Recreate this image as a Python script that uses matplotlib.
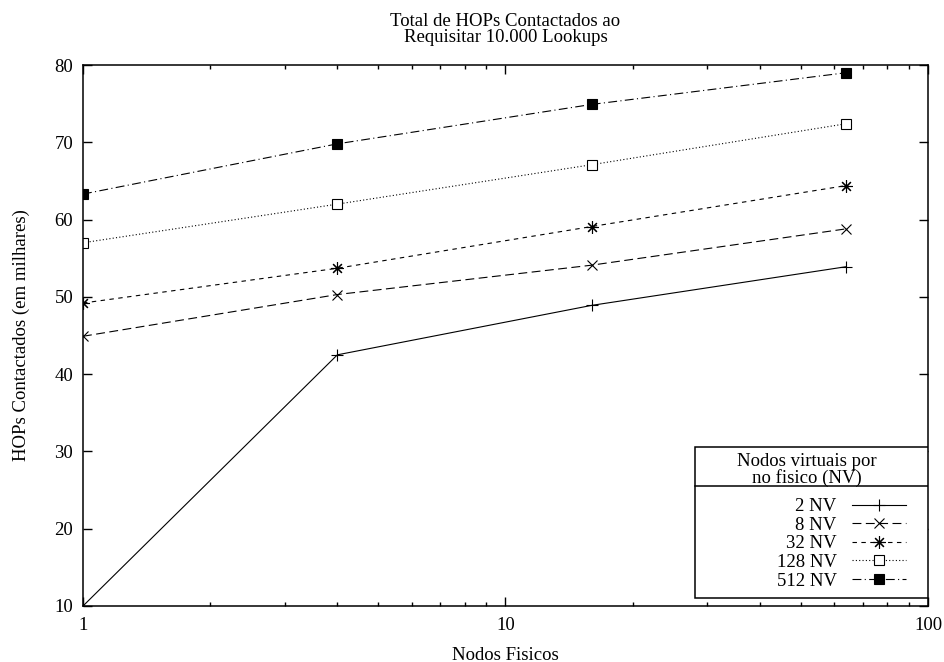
import numpy as np
import matplotlib
matplotlib.use('Agg')
import matplotlib.pyplot as plt
from matplotlib.patches import Rectangle
from matplotlib.lines import Line2D

# data
nodos_fisicos = [1, 4, 16, 64]
nv_2 = [10.0, 42.5, 48.9, 53.9]
nv_8 = [44.9, 50.3, 54.1, 58.8]
nv_32 = [49.2, 53.7, 59.1, 64.4]
nv_128 = [57.0, 62.0, 67.1, 72.4]
nv_512 = [63.3, 69.8, 74.9, 79.0]
rotulos = ['2 NV', '8 NV', '32 NV', '128 NV', '512 NV']

plt.rcParams['font.family'] = ['Liberation Serif', 'DejaVu Serif']
plt.rcParams['font.size'] = 13.5

fig = plt.figure(figsize=(9.45, 6.62), dpi=100)
ax = fig.add_axes([83/945, 1-606/662, (928-83)/945, (606-65)/662])

lw = 0.8
ax.plot(nodos_fisicos, nv_2, color='black', lw=lw, ls='-', marker='+', ms=9, mew=0.8, label=rotulos[0])
ax.plot(nodos_fisicos, nv_8, color='black', lw=lw, ls=(0, (8, 4)), marker='x', ms=7, mew=0.8, label=rotulos[1])
ax.plot(nodos_fisicos, nv_32, color='black', lw=lw, ls=(0, (4, 4)), marker=(8, 2, 0), ms=9, mew=0.8, label=rotulos[2])
ax.plot(nodos_fisicos, nv_128, color='black', lw=lw, ls=(0, (1, 2)), marker='s', ms=7, mew=0.8, mfc='white', label=rotulos[3])
ax.plot(nodos_fisicos, nv_512, color='black', lw=lw, ls=(0, (8, 3, 1, 3)), marker='s', ms=7, mew=0.8, mfc='black', label=rotulos[4])

ax.set_xscale('log')
ax.set_xlim(1, 100)
ax.set_ylim(10, 80)
ax.set_yticks(np.arange(10, 81, 10))
ax.xaxis.set_major_formatter(matplotlib.ticker.FuncFormatter(lambda v, p: '%g' % v))
ax.tick_params(which='both', direction='in', top=True, right=True, width=1)
ax.tick_params(which='major', length=6.5, pad=7)
ax.tick_params(axis='x', which='major', pad=8)
ax.tick_params(which='minor', length=3)
for s in ax.spines.values():
    s.set_linewidth(1.1)

ax.set_title('Total de HOPs Contactados ao\nRequisitar 10.000 Lookups', fontsize=13.5, pad=16.5, linespacing=0.95)
ax.set_xlabel('Nodos Fisicos', labelpad=9)
ax.set_ylabel('HOPs Contactados (em milhares)', labelpad=18)

# legend box with title separator (gnuplot style)
x0 = (695-83)/845
y0 = (606-598)/541
y1 = (606-447)/541
ysep = (606-486)/541
ax.add_patch(Rectangle((x0, y0), 1-x0, y1-y0, transform=ax.transAxes, fill=True,
                       facecolor='white', edgecolor='black', lw=1.1, zorder=5))
ax.add_line(Line2D([x0, 1], [ysep, ysep], transform=ax.transAxes, color='black', lw=1.1, zorder=6))
ax.text((x0+1)/2 - 5/845, (606-470)/541, 'Nodos virtuais por\nno fisico (NV)', transform=ax.transAxes,
        ha='center', va='center', linespacing=0.95, zorder=7)
leg = ax.legend(loc='upper right', bbox_to_anchor=(1 - 22/845, (606-498)/541), frameon=False, markerfirst=False,
                handlelength=2.9, handletextpad=0.8, labelspacing=0.08, borderpad=0.0, borderaxespad=0.0)
leg.set_zorder(8)

fig.savefig('out.png', dpi=100)
